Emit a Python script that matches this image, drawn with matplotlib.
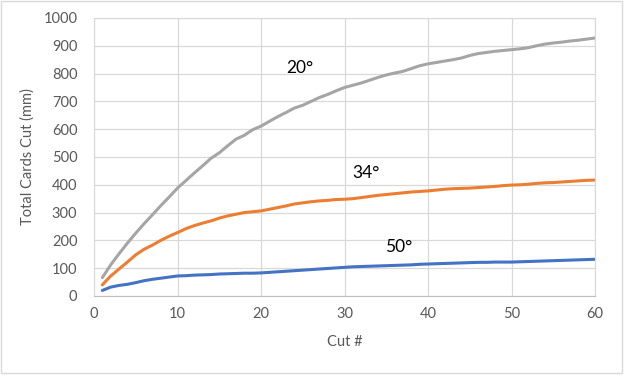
import numpy as np
import matplotlib.pyplot as plt
from matplotlib.patches import Rectangle

# cut number
cuts = np.arange(1, 61)

# total cut length (mm) for each blade angle
cut_20 = [66, 112, 152, 190, 226, 260, 292, 325, 356, 388,
          415, 442, 468, 495, 515, 540, 564, 578, 598, 611,
          628, 645, 660, 676, 686, 700, 714, 725, 738, 750,
          758, 766, 776, 786, 795, 802, 808, 818, 828, 835,
          840, 845, 850, 856, 865, 872, 876, 880, 883, 886,
          889, 893, 900, 906, 910, 913, 917, 920, 924, 928]
cut_34 = [40, 72, 97, 122, 148, 168, 183, 200, 215, 228,
          242, 253, 262, 270, 280, 288, 294, 300, 303, 306,
          312, 318, 324, 331, 335, 339, 342, 344, 347, 348,
          350, 354, 358, 362, 365, 368, 371, 374, 376, 378,
          381, 384, 386, 387, 388, 390, 392, 394, 397, 399,
          400, 402, 405, 407, 408, 410, 412, 414, 416, 417]
cut_50 = [20, 32, 38, 42, 48, 55, 60, 64, 68, 72,
          73, 75, 76, 77, 79, 80, 81, 82, 82, 83,
          85, 87, 89, 91, 93, 95, 97, 99, 101, 103,
          105, 106, 107, 108, 109, 110, 111, 112, 114, 115,
          116, 117, 118, 119, 120, 121, 121, 122, 122, 122,
          123, 124, 125, 126, 127, 128, 129, 130, 131, 132]

labels = ["20°", "34°", "50°"]

plt.rcParams['font.family'] = ['Lato', 'DejaVu Sans']

fig = plt.figure(figsize=(6.25, 3.76), dpi=100)
ax = fig.add_axes([0.1504, 0.2128, 0.8016, 0.7394])

ax.plot(cuts, cut_50, color='#4472C4', lw=2.2, solid_capstyle='round')
ax.plot(cuts, cut_34, color='#ED7D31', lw=2.2, solid_capstyle='round')
ax.plot(cuts, cut_20, color='#A5A5A5', lw=2.2, solid_capstyle='round')

ax.text(24.7, 820, labels[0], fontsize=12.5, ha='center', va='center', color='black')
ax.text(32.6, 442, labels[1], fontsize=12.5, ha='center', va='center', color='black')
ax.text(36.5, 175, labels[2], fontsize=12.5, ha='center', va='center', color='black')

ax.set_xlim(0, 60)
ax.set_ylim(0, 1000)
ax.set_xticks(np.arange(0, 61, 10))
ax.set_yticks(np.arange(0, 1001, 100))
ax.grid(True, color='#D9D9D9', lw=0.9)
ax.set_axisbelow(True)
ax.tick_params(length=0, labelsize=10.5, labelcolor='#595959', pad=8)
ax.tick_params(axis='y', pad=12)
for s in ax.spines.values():
    s.set_color('#D9D9D9')
ax.spines['bottom'].set_color('#BFBFBF')

ax.set_xlabel("Cut #", fontsize=10.5, color='#595959', labelpad=10)
ax.set_ylabel("Total Cards Cut (mm)", fontsize=10.5, color='#595959', labelpad=6)

# chart area border
fig.patches.append(Rectangle((0.0016, 0.008), 0.993, 0.99, transform=fig.transFigure,
                             fill=False, edgecolor='#D9D9D9', lw=1))

fig.savefig('out.png', dpi=100)
